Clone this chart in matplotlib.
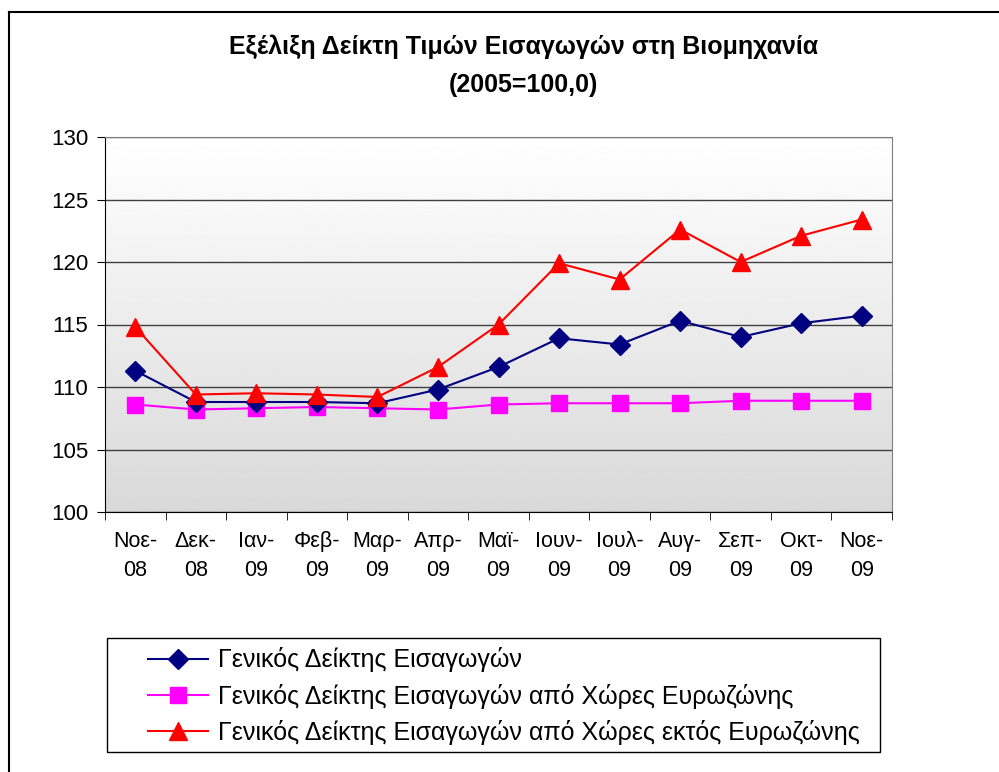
import numpy as np
import matplotlib.pyplot as plt
from matplotlib.lines import Line2D
from matplotlib.patches import Rectangle

plt.rcParams["font.family"] = ["Liberation Sans", "DejaVu Sans"]

months = ["Νοε-\n08", "Δεκ-\n08", "Ιαν-\n09", "Φεβ-\n09", "Μαρ-\n09", "Απρ-\n09", "Μαϊ-\n09",
          "Ιουν-\n09", "Ιουλ-\n09", "Αυγ-\n09", "Σεπ-\n09", "Οκτ-\n09", "Νοε-\n09"]
general = [111.3, 108.8, 108.8, 108.8, 108.7, 109.8, 111.6, 113.9, 113.4, 115.3, 114.0, 115.1, 115.7]
euro = [108.6, 108.2, 108.3, 108.4, 108.3, 108.2, 108.6, 108.7, 108.7, 108.7, 108.9, 108.9, 108.9]
non_euro = [114.8, 109.4, 109.5, 109.4, 109.2, 111.6, 115.0, 119.9, 118.6, 122.6, 120.0, 122.1, 123.4]

labels = ["Γενικός Δείκτης Εισαγωγών",
          "Γενικός Δείκτης Εισαγωγών από Χώρες Ευρωζώνης",
          "Γενικός Δείκτης Εισαγωγών από Χώρες εκτός Ευρωζώνης"]

fig = plt.figure(figsize=(9.99, 7.72), dpi=100)
ax = fig.add_axes([105 / 999, 1 - 512 / 772, 787 / 999, 375 / 772])

# gradient background
grad = np.linspace(1.0, 0.85, 256).reshape(-1, 1)
ax.imshow(grad, cmap="gray", vmin=0, vmax=1, aspect="auto",
          extent=[0, 1, 0, 1], transform=ax.transAxes, zorder=0)

x = np.arange(len(months))
ax.plot(x, general, color="#000080", marker="D", markersize=10, lw=1.5, zorder=4)
ax.plot(x, euro, color="#FF00FF", marker="s", markersize=11, lw=1.5, zorder=3)
ax.plot(x, non_euro, color="#FF0000", marker="^", markersize=13, lw=1.5, zorder=5)

ax.set_xlim(-0.5, len(months) - 0.5)
ax.set_ylim(100, 130)
ax.set_yticks(range(100, 131, 5))
ax.yaxis.grid(True, color="#404040", lw=1)
ax.set_axisbelow(True)
for gl in ax.get_ygridlines():
    gl.set_zorder(1)

ax.set_xticks(x)
ax.set_xticklabels(months, fontsize=15.5, linespacing=1.45)
ax.set_xticks(np.arange(-0.5, len(months), 1), minor=True)
ax.tick_params(axis="x", which="major", length=0, pad=14)
ax.tick_params(axis="x", which="minor", length=6, color="black")
ax.tick_params(axis="y", labelsize=16, length=6, pad=6)

for side in ["top", "right"]:
    ax.spines[side].set_color("#808080")
for side in ["left", "bottom"]:
    ax.spines[side].set_color("black")

fig.text(0.524, 1 - 47 / 772, "Εξέλιξη Δείκτη Τιμών Εισαγωγών στη Βιομηχανία",
         ha="center", va="center", fontsize=18, fontweight="bold")
fig.text(0.524, 1 - 85 / 772, "(2005=100,0)",
         ha="center", va="center", fontsize=18, fontweight="bold")

handles = [
    Line2D([], [], color="#000080", marker="D", markersize=10, lw=1.5),
    Line2D([], [], color="#FF00FF", marker="s", markersize=11, lw=1.5),
    Line2D([], [], color="#FF0000", marker="^", markersize=13, lw=1.5),
]
leg = fig.legend(handles, labels, loc="upper left",
                 bbox_to_anchor=(140 / 999, 1 - 640 / 772),
                 fontsize=18, frameon=False,
                 handlelength=2.4, handletextpad=0.4, labelspacing=0.45,
                 borderaxespad=0, borderpad=0.3)

# legend frame
fig.add_artist(Rectangle((107 / 999, 1 - 752 / 772), 773 / 999, 114 / 772,
                         transform=fig.transFigure, fill=False,
                         edgecolor="black", lw=1))

# outer chart frame
fig.add_artist(Line2D([9 / 999, 9 / 999], [0, 1 - 12 / 772], color="black", lw=1.5))
fig.add_artist(Line2D([9 / 999, 1], [1 - 12 / 772, 1 - 12 / 772], color="black", lw=1.5))

fig.savefig("out.png", dpi=100)
